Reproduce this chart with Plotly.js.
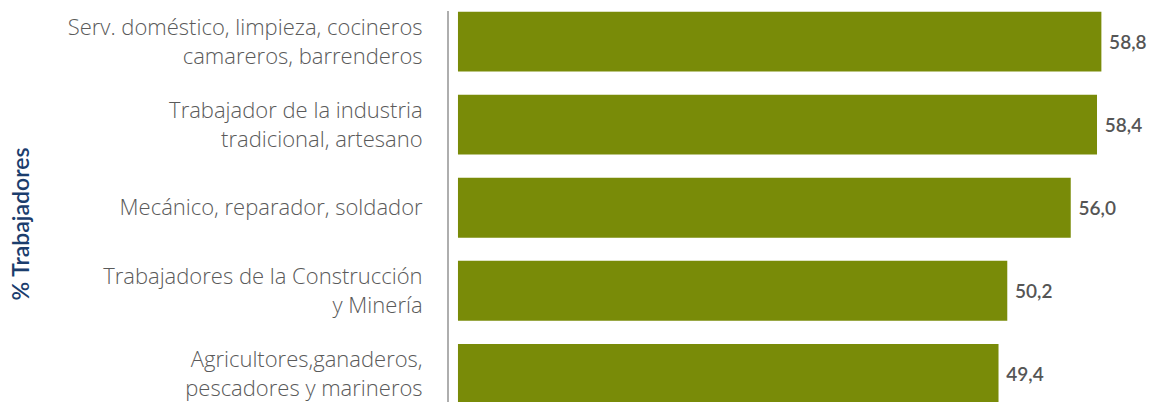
<!DOCTYPE html>
<html>
<head>
<meta charset="utf-8">
<script src="https://cdn.plot.ly/plotly-3.0.1.min.js"></script>
<style>html,body{margin:0;padding:0;background:#fff;}#chart{width:1155px;height:402px;}</style>
</head>
<body>
<div id="chart"></div>
<script>
var categories = [
  "Serv. doméstico, limpieza, cocineros<br>camareros, barrenderos",
  "Trabajador de la industria<br>tradicional, artesano",
  "Mecánico, reparador, soldador",
  "Trabajadores de la Construcción<br>y Minería",
  "Agricultores,ganaderos,<br>pescadores y marineros"
];
var values = [58.8, 58.4, 56.0, 50.2, 49.4];
var positions = [0, 1, 2, 3, 4];
var axisTitle = "% Trabajadores";

var trace = {
  type: "bar",
  orientation: "h",
  x: values,
  y: positions,
  width: 0.72,
  marker: {color: "#798B08"},
  text: values,
  texttemplate: " %{x:.1f}",
  textposition: "outside",
  cliponaxis: false,
  textfont: {family: "Lato, 'Open Sans', sans-serif", size: 19, color: "#555555", weight: 600},
  hoverinfo: "none"
};

var layout = {
  width: 1155,
  height: 402,
  margin: {l: 449, r: 0, t: 11, b: 0, pad: 0},
  paper_bgcolor: "#ffffff",
  plot_bgcolor: "#ffffff",
  separators: ",.",
  showlegend: false,
  xaxis: {range: [-0.82, 63.7], visible: false, fixedrange: true},
  yaxis: {
    range: [4.34, -0.37],
    tickmode: "array",
    tickvals: positions,
    ticktext: categories,
    ticks: "",
    showgrid: false,
    zeroline: false,
    showline: true,
    linecolor: "#AEAEAE",
    linewidth: 2,
    ticklabelstandoff: 20,
    tickfont: {family: "'Open Sans', Lato, sans-serif", size: 22, color: "#5A5A5A", weight: 300}
  },
  annotations: [{
    text: axisTitle,
    xref: "paper", yref: "paper",
    x: -0.607, y: 0.455,
    xanchor: "center", yanchor: "middle",
    textangle: -90,
    showarrow: false,
    font: {family: "Lato, 'Open Sans', sans-serif", size: 23, color: "#1B3D6D", weight: 600}
  }]
};

Plotly.newPlot("chart", [trace], layout, {staticPlot: true, displayModeBar: false});
</script>
</body>
</html>
